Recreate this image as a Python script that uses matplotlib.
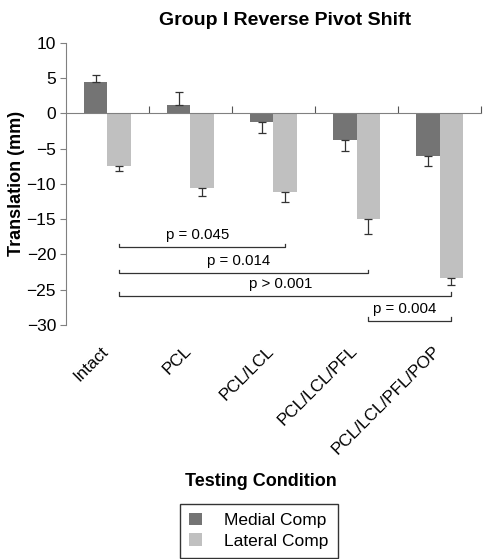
import numpy as np
import matplotlib.pyplot as plt

plt.rcParams['font.family'] = ['Liberation Sans', 'DejaVu Sans']

# data
conditions = ['Intact', 'PCL', 'PCL/LCL', 'PCL/LCL/PFL', 'PCL/LCL/PFL/POP']
medial = [4.4, 1.2, -1.2, -3.8, -6.0]
medial_err = [1.0, 1.9, 1.6, 1.5, 1.4]
lateral = [-7.4, -10.6, -11.2, -15.0, -23.4]
lateral_err = [0.7, 1.1, 1.4, 2.1, 0.9]

# significance brackets: (from condition, to condition, y level, label)
pairs = [(0, 2, -19.0, 'p = 0.045'),
         (0, 3, -22.7, 'p = 0.014'),
         (0, 4, -25.9, 'p > 0.001'),
         (3, 4, -29.4, 'p = 0.004')]


def one_sided(vals, errs):
    lo = [e if v < 0 else 0 for v, e in zip(vals, errs)]
    hi = [e if v >= 0 else 0 for v, e in zip(vals, errs)]
    return [lo, hi]


fig = plt.figure(figsize=(4.84, 5.59), dpi=100)
ax = fig.add_axes([0.136, 0.419, 0.858, 0.504])

x = np.arange(len(conditions))
w = 0.283
ekw = dict(ecolor='#333333', elinewidth=0.9, capsize=3, capthick=0.9)
b1 = ax.bar(x - w / 2, medial, w, color='#747474', yerr=one_sided(medial, medial_err),
            error_kw=ekw, label='Medial Comp', zorder=2)
b2 = ax.bar(x + w / 2, lateral, w, color='#c0c0c0', yerr=one_sided(lateral, lateral_err),
            error_kw=ekw, label='Lateral Comp', zorder=2)

ax.set_xlim(-0.5, len(conditions) - 0.5)
ax.set_ylim(-30, 10)
ax.set_yticks(np.arange(-30, 11, 5))
ax.tick_params(axis='y', labelsize=12.5, direction='out', length=4, color='#808080', pad=3)
ax.set_xticks(x + 0.5)
ax.set_xticklabels([])
ax.tick_params(axis='x', direction='in', length=5, color='#555555')

for s in ['top', 'right']:
    ax.spines[s].set_visible(False)
ax.spines['bottom'].set_position(('data', 0))
ax.spines['bottom'].set_color('#808080')
ax.spines['left'].set_color('#808080')

for i, name in enumerate(conditions):
    ax.text(i - 0.02, -33.4, name, rotation=45, rotation_mode='anchor',
            ha='right', va='center', fontsize=12.3, clip_on=False)

for a, b, yb, lab in pairs:
    xa, xb = a + w / 2, b + w / 2
    ax.plot([xa, xa, xb, xb], [yb + 0.5, yb, yb, yb + 0.5], color='#333333', lw=0.9)
    ax.text((xa + xb) / 2 - 0.06, yb + 0.7, lab, ha='center', va='bottom', fontsize=10.8)

ax.set_title('Group I Reverse Pivot Shift', fontsize=14, fontweight='bold', pad=13, x=0.528)
ax.set_ylabel('Translation (mm)', fontsize=13, fontweight='bold', labelpad=1)
fig.text(0.539, 0.138, 'Testing Condition', ha='center', va='center', fontsize=13, fontweight='bold')

leg = fig.legend(handles=[b1, b2], loc='lower center', bbox_to_anchor=(0.535, 0.0),
                 fontsize=12.5, frameon=True, fancybox=False, edgecolor='black',
                 handlelength=0.7, handleheight=0.7, handletextpad=1.3,
                 borderpad=0.55, labelspacing=0.3, borderaxespad=0.05)
leg.get_frame().set_linewidth(1.0)

fig.savefig('out.png', dpi=100)
